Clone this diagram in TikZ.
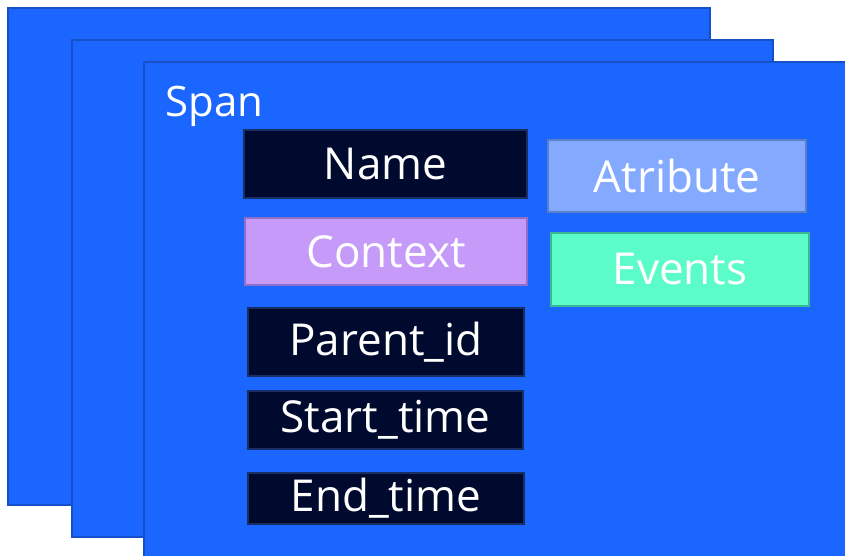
\documentclass[tikz,border=0pt]{standalone}
\usepackage{fontspec}
\setmainfont{Open Sans}
\definecolor{bgblue}{HTML}{1A66FF}
\definecolor{bgedge}{HTML}{1650C8}
\definecolor{navy}{HTML}{000A2E}
\definecolor{navyedge}{HTML}{1A2E66}
\definecolor{ctxfill}{HTML}{C69AF8}
\definecolor{ctxedge}{HTML}{8F6FC8}
\definecolor{attfill}{HTML}{84AAFF}
\definecolor{attedge}{HTML}{5A7FC8}
\definecolor{evfill}{HTML}{5CFCC8}
\definecolor{evedge}{HTML}{3BB894}
\tikzset{
  layer/.style={fill=bgblue, draw=bgedge, line width=2.5pt},
  field/.style={draw, line width=1.5pt, inner sep=0pt, text=white,
    font=\fontsize{44}{50}\selectfont},
}
\begin{document}
\begin{tikzpicture}[x=1pt,y=-1pt]
\useasboundingbox (0,0) rectangle (845,556);
\draw[layer] (8,8) rectangle (710,505);
\draw[layer] (72,40) rectangle (773,537);
\draw[layer] (144,62) rectangle (848,560);
\node[anchor=base west, text=white, font=\fontsize{42}{48}\selectfont] (span) at (162,117) {Span};
\node[field, fill=navy, draw=navyedge, minimum width=283pt, minimum height=68pt] (name) at (385.5,164) {Name};
\node[field, fill=ctxfill, draw=ctxedge, minimum width=282pt, minimum height=67pt] (ctx) at (386,251.5) {Context};
\node[field, fill=navy, draw=navyedge, minimum width=276pt, minimum height=68pt] (pid) at (386,342) {Parent\_id};
\node[field, fill=navy, draw=navyedge, minimum width=275pt, minimum height=58pt] (st) at (385.5,420) {Start\_time};
\node[field, fill=navy, draw=navyedge, minimum width=276pt, minimum height=51pt] (et) at (386,498.5) {End\_time};
\node[field, fill=attfill, draw=attedge, minimum width=258pt, minimum height=72pt] (att) at (677,176) {Atribute};
\node[field, fill=evfill, draw=evedge, minimum width=258pt, minimum height=73pt] (ev) at (680,269.5) {Events};
\end{tikzpicture}
\end{document}
